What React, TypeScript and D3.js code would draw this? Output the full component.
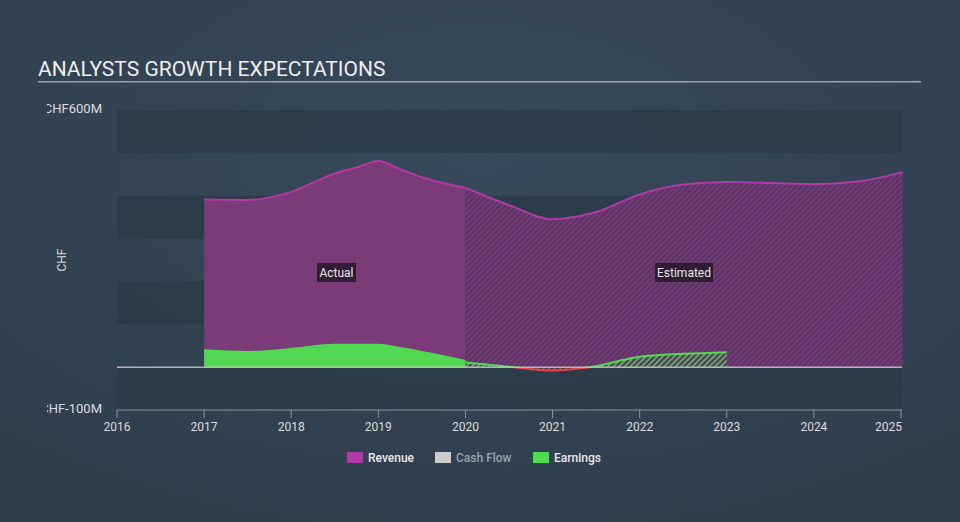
import React from "react";
import * as d3 from "d3";

const W = 960;
const H = 522;

const yearTicks = [2016, 2017, 2018, 2019, 2020, 2021, 2022, 2023, 2024, 2025];
const yTickLabels = [
  { v: 600, label: "CHF600M" },
  { v: -100, label: "CHF-100M" },
];
const bandStarts = [600, 400, 200, 0];

const revenueActualX = [2017.0, 2017.5, 2018.0, 2018.5, 2018.75, 2019.0, 2019.25, 2019.5, 2020.0];
const revenueActualY = [391, 390, 409, 452, 466, 481, 462, 443, 418];
const revenueEstX = [2020.0, 2020.5, 2021.0, 2021.5, 2022.0, 2022.5, 2023.0, 2024.0, 2024.5, 2025.02];
const revenueEstY = [418, 378, 345, 362, 403, 426, 432, 427, 433, 455];

const earningsActualX = [2017.0, 2017.5, 2018.0, 2018.5, 2019.0, 2019.25, 2019.5, 2020.0];
const earningsActualY = [40, 36, 43, 53, 53, 45, 36, 15];
const earningsEstX = [2020.0, 2020.5, 2021.0, 2021.4, 2022.0, 2022.5, 2023.0];
const earningsEstY = [11, 1, -8, -1, 24, 31, 35];

const legendItems = [
  { label: "Revenue", color: "#b03aa6", text: "#e8e8e8" },
  { label: "Cash Flow", color: "#cccccc", text: "#9aa3ac" },
  { label: "Earnings", color: "#4fdc4f", text: "#e8e8e8" },
];

const FONT = "Roboto, 'Open Sans', sans-serif";

export default function App() {
  const x = d3.scaleLinear().domain([2016, 2025]).range([117, 901]);
  const y = d3.scaleLinear().domain([-100, 600]).range([410, 110]);
  const y0 = y(0);

  const zip = (xs: number[], ys: number[]) => xs.map((v, i) => [v, ys[i]] as [number, number]);

  const area = d3
    .area<[number, number]>()
    .x((d) => x(d[0]))
    .y0(y0)
    .y1((d) => y(d[1]))
    .curve(d3.curveMonotoneX);
  const line = d3
    .line<[number, number]>()
    .x((d) => x(d[0]))
    .y((d) => y(d[1]))
    .curve(d3.curveMonotoneX);

  const revA = zip(revenueActualX, revenueActualY);
  const revE = zip(revenueEstX, revenueEstY);
  const earA = zip(earningsActualX, earningsActualY);
  const earE = zip(earningsEstX, earningsEstY);

  const legendX = [347, 435, 533];

  return (
    <svg
      width={W}
      height={H}
      style={{ position: "absolute", left: 0, top: 0, fontFamily: FONT }}
    >
      <defs>
        <radialGradient id="bg" cx="50%" cy="30%" r="75%">
          <stop offset="0%" stopColor="#37495a" />
          <stop offset="100%" stopColor="#303e4c" />
        </radialGradient>
        <pattern
          id="revHatch"
          width="4"
          height="4"
          patternUnits="userSpaceOnUse"
          patternTransform="rotate(45)"
        >
          <rect width="4" height="4" fill="#5a3564" />
          <rect width="1.6" height="4" fill="#7c3a7c" />
        </pattern>
        <pattern
          id="earnHatch"
          width="4"
          height="4"
          patternUnits="userSpaceOnUse"
          patternTransform="rotate(45)"
        >
          <rect width="1.6" height="4" fill="#4fdc4f" opacity="0.85" />
        </pattern>
        <pattern
          id="redHatch"
          width="4"
          height="4"
          patternUnits="userSpaceOnUse"
          patternTransform="rotate(45)"
        >
          <rect width="1.6" height="4" fill="#e2474c" opacity="0.85" />
        </pattern>
        <clipPath id="above">
          <rect x={0} y={0} width={W} height={y0} />
        </clipPath>
        <clipPath id="below">
          <rect x={0} y={y0} width={W} height={H - y0} />
        </clipPath>
        <clipPath id="ylab">
          <rect x={47} y={0} width={W} height={H} />
        </clipPath>
      </defs>

      <rect width={W} height={H} fill="url(#bg)" />

      {/* Title */}
      <text x={38} y={76} fontSize={21} fill="#eeeeee" fontFamily={FONT}>
        ANALYSTS GROWTH EXPECTATIONS
      </text>
      <rect x={38} y={81} width={883} height={1.5} fill="#9aa5b0" />

      {/* bands */}
      {bandStarts.map((b) => (
        <rect
          key={b}
          x={x(2016)}
          y={y(b)}
          width={x(2025) - x(2016) + 1}
          height={y(b - 100) - y(b)}
          fill="#2c3a47"
          opacity={0.75}
        />
      ))}

      {/* y labels */}
      <g clipPath="url(#ylab)">
        {yTickLabels.map((t) => (
          <text
            key={t.v}
            x={102}
            y={y(t.v) + 3}
            textAnchor="end"
            fontSize={13}
            fill="#dddddd"
          >
            {t.label}
          </text>
        ))}
      </g>
      <text
        transform={`translate(66, ${(y(600) + y(-100)) / 2}) rotate(-90)`}
        textAnchor="middle"
        fontSize={12}
        fill="#dddddd"
      >
        CHF
      </text>

      {/* Revenue */}
      <path d={area(revA) || ""} fill="#7b3a78" />
      <path d={area(revE) || ""} fill="url(#revHatch)" />
      <path d={line(revA) || ""} fill="none" stroke="#b03aa6" strokeWidth={2} />
      <path d={line(revE) || ""} fill="none" stroke="#b03aa6" strokeWidth={2} />

      {/* Earnings */}
      <path d={area(earA) || ""} fill="#52d852" />
      <path d={line(earA) || ""} fill="none" stroke="#4fdc4f" strokeWidth={1.5} />
      <g clipPath="url(#above)">
        <path d={area(earE) || ""} fill="url(#earnHatch)" />
        <path d={line(earE) || ""} fill="none" stroke="#4fdc4f" strokeWidth={2} />
      </g>
      <g clipPath="url(#below)">
        <path d={area(earE) || ""} fill="url(#redHatch)" />
        <path d={line(earE) || ""} fill="none" stroke="#e2474c" strokeWidth={2} />
      </g>

      {/* zero line */}
      <line x1={x(2016)} x2={x(2025) + 1} y1={y0} y2={y0} stroke="#c9c9c9" strokeWidth={1.5} opacity={0.85} />

      {/* Actual / Estimated labels */}
      <g>
        <rect x={317} y={263} width={39} height={19} fill="#2a1b2d" opacity={0.9} />
        <text x={336.5} y={276.5} textAnchor="middle" fontSize={12} fill="#e6e6e6">
          Actual
        </text>
        <rect x={655} y={263} width={58} height={19} fill="#2a1b2d" opacity={0.9} />
        <text x={684} y={276.5} textAnchor="middle" fontSize={12} fill="#e6e6e6">
          Estimated
        </text>
      </g>

      {/* x axis */}
      <line x1={x(2016)} x2={x(2025) + 1} y1={410} y2={410} stroke="#8795a3" strokeWidth={1} />
      {yearTicks.map((t) => (
        <g key={t}>
          <line x1={x(t)} x2={x(t)} y1={410} y2={418} stroke="#8795a3" strokeWidth={1} />
          <text
            x={t === 2025 ? x(t) + 1 : x(t)}
            y={431}
            textAnchor={t === 2025 ? "end" : "middle"}
            fontSize={12}
            fill="#dddddd"
          >
            {t}
          </text>
        </g>
      ))}

      {/* legend */}
      {legendItems.map((it, i) => (
        <g key={it.label}>
          <rect x={legendX[i]} y={452} width={16} height={11} fill={it.color} />
          <text x={legendX[i] + 21} y={462} fontSize={12} fontWeight={500} fill={it.text}>
            {it.label}
          </text>
        </g>
      ))}
    </svg>
  );
}
